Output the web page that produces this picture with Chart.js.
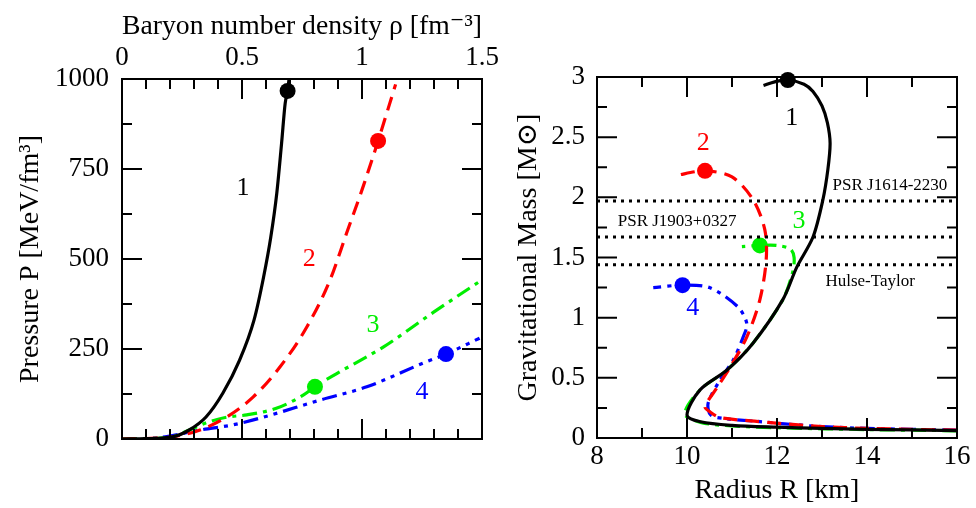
<!DOCTYPE html>
<html>
<head>
<meta charset="utf-8">
<script src="https://cdn.jsdelivr.net/npm/chart.js@4.4.1/dist/chart.umd.min.js"></script>
<style>
  body { margin: 0; background: #fff; }
  #wrap { position: relative; width: 976px; height: 508px; background: #fff; }
  #eos { position: absolute; left: 0; top: 0; }
  #mr { position: absolute; left: 490px; top: 0; }
</style>
</head>
<body>
<div id="wrap">
  <canvas id="eos" width="500" height="508"></canvas>
  <canvas id="mr" width="486" height="508"></canvas>
</div>
<script>
// ---- left panel: pressure vs baryon density ----
const rhoTicks = [0, 0.5, 1, 1.5]
const pTicks = [0, 250, 500, 750, 1000]

const rho1 = [0, 0.1, 0.21, 0.28, 0.35, 0.42, 0.49, 0.55, 0.59, 0.62, 0.645, 0.665, 0.68, 0.69, 0.696]
const p1 = [0, 1, 6, 25, 61, 127, 219, 330, 450, 561, 683, 822, 933, 967, 1000]
const rho2 = [0, 0.1, 0.21, 0.325, 0.436, 0.547, 0.658, 0.77, 0.867, 0.936, 1.0, 1.067, 1.14]
const p2 = [0, 1, 6, 25, 61, 117, 200, 311, 442, 572, 692, 828, 985]
const rho3 = [0, 0.1, 0.21, 0.28, 0.36, 0.44, 0.52, 0.646, 0.755, 0.804, 0.88, 1.09, 1.3, 1.5]
const p3 = [0, 1, 6, 25, 47, 61, 67, 86, 122, 145, 176, 256, 353, 442]
const rho4 = [0, 0.1, 0.18, 0.325, 0.46, 0.575, 0.825, 1.02, 1.255, 1.35, 1.49]
const p4 = [0, 1, 6, 25, 39, 58, 108, 145, 211, 236, 280]

// maximum-mass points on each EoS
const rhoMax = [0.69, 1.067, 0.804, 1.35]
const pMax = [967, 828, 145, 236]

// ---- right panel: mass vs radius ----
const rTicks = [8, 10, 12, 14, 16]
const mTicks = [0, 0.5, 1, 1.5, 2, 2.5, 3]

const r1 = [16, 14, 13, 12, 11, 10.3, 10.0, 10.29, 10.89, 11.47, 12.13, 12.44, 12.8, 13.02, 13.13, 13.18, 13.12, 13.0, 12.8, 12.6, 12.24, 11.95, 11.7]
const m1 = [0.062, 0.072, 0.08, 0.09, 0.105, 0.135, 0.19, 0.4, 0.565, 0.79, 1.15, 1.42, 1.67, 1.98, 2.23, 2.45, 2.62, 2.76, 2.88, 2.94, 2.975, 2.96, 2.93]
const r2 = [16, 14, 13, 12.1, 11.5, 10.73, 10.5, 10.4, 10.67, 10.96, 11.33, 11.62, 11.76, 11.73, 11.47, 11.0, 10.4, 9.73]
const m2 = [0.065, 0.08, 0.095, 0.12, 0.14, 0.17, 0.22, 0.26, 0.42, 0.59, 0.84, 1.15, 1.48, 1.73, 1.98, 2.17, 2.22, 2.18]
const r3 = [16, 14, 12, 11, 10.3, 9.95, 10.29, 10.89, 11.47, 12.13, 12.35, 12.38, 12.3, 12.0, 11.62, 11.22]
const m3 = [0.06, 0.07, 0.085, 0.1, 0.13, 0.2, 0.4, 0.565, 0.79, 1.15, 1.38, 1.5, 1.57, 1.6, 1.6, 1.59]
const r4 = [16, 14, 13, 12.1, 11.5, 10.87, 10.53, 10.47, 10.73, 11.03, 11.25, 11.33, 11.13, 10.5, 9.9, 9.25]
const m4 = [0.065, 0.08, 0.095, 0.12, 0.14, 0.16, 0.19, 0.29, 0.48, 0.65, 0.84, 0.95, 1.09, 1.25, 1.27, 1.25]

const rMax = [12.24, 10.4, 11.62, 9.9]
const mMax = [2.975, 2.22, 1.6, 1.27]

// observed pulsar masses
const pulsarNames = ['PSR J1614-2230', 'PSR J1903+0327', 'Hulse-Taylor']
const pulsarMass = [1.97, 1.67, 1.44]

const colors = ['#000000', '#ff0000', '#00ee00', '#0000ff']
const dashes = [[], [14, 8], [15, 6, 4, 6], [15, 6, 4, 6, 4, 6]]
const serif = "'Liberation Serif', 'DejaVu Serif', serif"

Chart.defaults.font.family = serif
Chart.defaults.color = '#000'

const pts = (xs, ys) => xs.map((x, i) => ({ x: x, y: ys[i] }))

// box with inward ticks on all four sides
const framePlugin = {
  id: 'frame',
  afterDatasetsDraw(chart, args, opts) {
    const { ctx, chartArea: a, scales } = chart
    ctx.save()
    ctx.strokeStyle = '#000'
    ctx.lineWidth = 2
    ctx.beginPath()
    const along = (scale, step, major, draw) => {
      for (let v = scale.min; v <= scale.max + 1e-9; v += step) {
        const q = Math.abs(v / major - Math.round(v / major)) < 1e-6
        draw(scale.getPixelForValue(v), q ? 20 : 10)
      }
    }
    along(scales.x, opts.xMinor, opts.xMajor, (px, len) => {
      ctx.moveTo(px, a.top); ctx.lineTo(px, a.top + len)
      ctx.moveTo(px, a.bottom); ctx.lineTo(px, a.bottom - len)
    })
    along(scales.y, opts.yMinor, opts.yMajor, (py, len) => {
      ctx.moveTo(a.left, py); ctx.lineTo(a.left + len, py)
      ctx.moveTo(a.right, py); ctx.lineTo(a.right - len, py)
    })
    ctx.stroke()
    ctx.strokeRect(a.left, a.top, a.width, a.height)
    ctx.restore()
  }
}

// text placed in data coordinates
const notePlugin = {
  id: 'notes',
  afterDatasetsDraw(chart, args, opts) {
    const { ctx, scales } = chart
    ctx.save()
    ctx.textAlign = 'center'
    ctx.textBaseline = 'middle'
    opts.items.forEach(n => {
      ctx.fillStyle = n.color
      ctx.font = n.size + 'px ' + serif
      ctx.fillText(n.text, scales.x.getPixelForValue(n.x), scales.y.getPixelForValue(n.y))
    })
    ctx.restore()
  }
}

function curveSets(xs, ys, mx, my, mode) {
  const sets = xs.map((x, i) => ({
    data: pts(x, ys[i]),
    showLine: true,
    borderColor: colors[i],
    borderWidth: 3.2,
    borderDash: dashes[i],
    pointRadius: 0,
    tension: 0.3,
    cubicInterpolationMode: mode
  }))
  // the dots sit on the frame in places, so don't clip them
  mx.forEach((x, i) => sets.push({
    data: [{ x: x, y: my[i] }],
    pointRadius: 8,
    pointBackgroundColor: colors[i],
    pointBorderWidth: 0,
    clip: false
  }))
  return sets
}

// fixed box size, and no extra room for labels hanging over the ends
const fixSize = (w, h) => s => {
  if (w) s.width = w
  if (h) s.height = h
  s.paddingLeft = s.paddingRight = s.paddingTop = s.paddingBottom = 0
}

function axis(ticks, pad, extra) {
  return Object.assign({
    type: 'linear',
    min: ticks[0],
    max: ticks[ticks.length - 1],
    afterBuildTicks: s => { s.ticks = ticks.map(v => ({ value: v })) },
    ticks: { font: { size: 27 }, color: '#000', callback: v => String(v), maxRotation: 0, padding: pad },
    grid: { display: false, drawTicks: false },
    border: { display: false }
  }, extra)
}

new Chart(document.getElementById('eos'), {
  type: 'scatter',
  data: {
    datasets: curveSets([rho1, rho2, rho3, rho4], [p1, p2, p3, p4], rhoMax, pMax, 'monotone')
  },
  options: {
    responsive: false,
    animation: false,
    events: [],
    layout: { padding: { left: 0, top: 0, right: 18, bottom: 69 } },
    scales: {
      x: axis(rhoTicks, 5, {
        position: 'top',
        afterFit: fixSize(0, 79),
        title: { display: true, text: 'Baryon number density ρ [fm⁻³]', font: { size: 28 }, color: '#000', padding: { top: 10 } }
      }),
      y: axis(pTicks, 13, {
        afterFit: fixSize(122, 0),
        title: { display: true, text: 'Pressure P [MeV/fm³]', font: { size: 28 }, color: '#000', padding: { top: 14 } }
      })
    },
    plugins: {
      legend: { display: false },
      tooltip: { enabled: false },
      frame: { xMajor: 0.5, xMinor: 0.1, yMajor: 250, yMinor: 125 },
      notes: {
        items: [
          { text: '1', x: 0.504, y: 697, color: colors[0], size: 26 },
          { text: '2', x: 0.78, y: 500, color: colors[1], size: 26 },
          { text: '3', x: 1.046, y: 317, color: colors[2], size: 26 },
          { text: '4', x: 1.25, y: 131, color: colors[3], size: 26 }
        ]
      }
    }
  },
  plugins: [framePlugin, notePlugin]
})

const pulsarSets = pulsarMass.map(m => ({
  data: [{ x: 8, y: m }, { x: 16, y: m }],
  showLine: true,
  borderColor: '#000',
  borderWidth: 3,
  borderDash: [3, 5],
  pointRadius: 0
}))

new Chart(document.getElementById('mr'), {
  type: 'scatter',
  data: {
    datasets: pulsarSets.concat(curveSets([r1, r2, r3, r4], [m1, m2, m3, m4], rMax, mMax, 'default'))
  },
  options: {
    responsive: false,
    animation: false,
    events: [],
    layout: { padding: { left: 0, top: 77, right: 19, bottom: 0 } },
    scales: {
      x: axis(rTicks, 3, {
        position: 'bottom',
        afterFit: fixSize(0, 70),
        title: { display: true, text: 'Radius R [km]', font: { size: 28 }, color: '#000', padding: { bottom: 1 } }
      }),
      y: axis(mTicks, 12, {
        afterFit: fixSize(107, 0),
        title: { display: true, text: 'Gravitational Mass [M⊙]', font: { size: 28 }, color: '#000', padding: { top: 22 } }
      })
    },
    plugins: {
      legend: { display: false },
      tooltip: { enabled: false },
      frame: { xMajor: 2, xMinor: 1, yMajor: 0.5, yMinor: 0.25 },
      notes: {
        items: [
          { text: '1', x: 12.33, y: 2.66, color: colors[0], size: 26 },
          { text: '2', x: 10.36, y: 2.45, color: colors[1], size: 26 },
          { text: '3', x: 12.49, y: 1.8, color: colors[2], size: 26 },
          { text: '4', x: 10.13, y: 1.08, color: colors[3], size: 26 },
          { text: pulsarNames[0], x: 14.51, y: 2.1, color: '#000', size: 17 },
          { text: pulsarNames[1], x: 9.78, y: 1.8, color: '#000', size: 17 },
          { text: pulsarNames[2], x: 14.07, y: 1.3, color: '#000', size: 17 }
        ]
      }
    }
  },
  plugins: [framePlugin, notePlugin]
})
</script>
</body>
</html>
